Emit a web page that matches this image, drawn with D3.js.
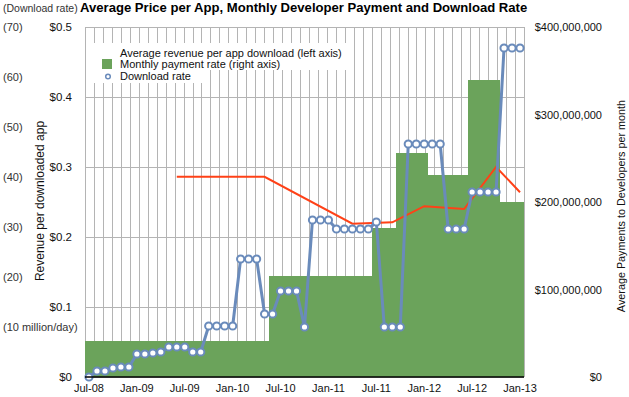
<!DOCTYPE html>
<html>
<head>
<meta charset="utf-8">
<script src="https://cdn.jsdelivr.net/npm/d3@7"></script>
<style>
  body { margin: 0; background: #fff; }
  svg { font-family: "Liberation Sans", Arial, Helvetica, sans-serif; }
</style>
</head>
<body>
<div id="chart"></div>
<script>
// months on the category axis
const months = [
  'Jul-08','Aug-08','Sep-08','Oct-08','Nov-08','Dec-08',
  'Jan-09','Feb-09','Mar-09','Apr-09','May-09','Jun-09','Jul-09','Aug-09','Sep-09','Oct-09','Nov-09','Dec-09',
  'Jan-10','Feb-10','Mar-10','Apr-10','May-10','Jun-10','Jul-10','Aug-10','Sep-10','Oct-10','Nov-10','Dec-10',
  'Jan-11','Feb-11','Mar-11','Apr-11','May-11','Jun-11','Jul-11','Aug-11','Sep-11','Oct-11','Nov-11','Dec-11',
  'Jan-12','Feb-12','Mar-12','Apr-12','May-12','Jun-12','Jul-12','Aug-12','Sep-12','Oct-12','Nov-12','Dec-12',
  'Jan-13'
];

// download rate, million/day (one per month)
const downloadRate = [
  0, 1.2, 1.2, 1.8, 2, 2,
  4.6, 4.6, 4.8, 5, 6, 6, 6, 5, 5, 10.2, 10.2, 10.2,
  10.2, 23.6, 23.6, 23.6, 12.6, 12.6, 17.2, 17.2, 17.2, 10, 31.4, 31.4,
  31.4, 29.6, 29.6, 29.6, 29.6, 29.6, 31, 10, 10, 10, 46.6, 46.6,
  46.6, 46.6, 46.6, 29.6, 29.6, 29.6, 37, 37, 37, 37, 65.8, 65.8,
  65.8
];

// monthly payment rate to developers (step periods)
const paymentStart = ['Jul-08', 'Jun-10', 'Jul-11', 'Oct-11', 'Feb-12', 'Jul-12', 'Nov-12'];
const paymentRate = [41e6, 115e6, 170e6, 256e6, 231e6, 340e6, 200e6];

// average revenue per app download
const revenueMonths = ['Jun-09', 'May-10', 'Apr-11', 'Sep-11', 'Jan-12', 'Jun-12', 'Oct-12', 'Jan-13'];
const revenuePerDownload = [0.286, 0.286, 0.219, 0.221, 0.244, 0.24, 0.30, 0.264];

const xTickLabels = ['Jul-08','Jan-09','Jul-09','Jan-10','Jul-10','Jan-11','Jul-11','Jan-12','Jul-12','Jan-13'];
const leftTicks = [0, 0.1, 0.2, 0.3, 0.4, 0.5];
const rightTicks = [0, 100e6, 200e6, 300e6, 400e6];
const rateTicks = [10, 20, 30, 40, 50, 60, 70];
const legendLabels = [
  'Average revenue per app download (left axis)',
  'Monthly payment rate (right axis)',
  'Download rate'
];

const width = 629, height = 397;
const plotL = 85, plotR = 524, plotT = 27, plotB = 377;
const green = '#6ba35b', blue = '#6a8bbb', red = '#ff4117', grid = '#b4b4b4';

const svg = d3.select('#chart').append('svg')
  .attr('width', width)
  .attr('height', height);

const x = d3.scaleBand().domain(months).range([plotL, plotR]).padding(0);
const cx = m => x(m) + x.bandwidth() / 2;
const yLeft = d3.scaleLinear().domain([0, 0.5]).range([plotB, plotT]);
const yRight = d3.scaleLinear().domain([0, 400e6]).range([plotB, plotT]);
const yRate = d3.scaleLinear().domain([0, 70]).range([plotB, plotT]);

// gridlines
const gx = d3.scaleLinear().domain([0, 49]).range([plotL, plotR]);
svg.append('g').selectAll('line')
  .data(d3.range(0, 50))
  .enter().append('line')
  .attr('x1', d => Math.round(gx(d)) + 0.5).attr('x2', d => Math.round(gx(d)) + 0.5)
  .attr('y1', plotT).attr('y2', plotB)
  .attr('stroke', grid).attr('stroke-width', 1);
svg.append('g').selectAll('line')
  .data(leftTicks)
  .enter().append('line')
  .attr('x1', plotL).attr('x2', plotR)
  .attr('y1', d => yLeft(d) + 0.5).attr('y2', d => yLeft(d) + 0.5)
  .attr('stroke', grid).attr('stroke-width', 1);

// legend background
svg.append('rect').attr('x', plotL + 1).attr('y', 43).attr('width', 262).attr('height', 27).attr('fill', '#fff');
svg.append('rect').attr('x', plotL + 1).attr('y', 69).attr('width', 121).attr('height', 14).attr('fill', '#fff');

// payment steps, drawn as one stepped area so no seams show between periods
const steps = [];
paymentRate.forEach((v, i) => {
  const x0 = x(paymentStart[i]);
  const x1 = i < paymentStart.length - 1 ? x(paymentStart[i + 1]) : plotR;
  steps.push([x0, v], [x1, v]);
});
svg.append('path')
  .datum(steps)
  .attr('fill', green)
  .attr('shape-rendering', 'crispEdges')
  .attr('d', d3.area().x(d => d[0]).y0(plotB).y1(d => yRight(d[1])));

// revenue line
svg.append('path')
  .datum(revenuePerDownload)
  .attr('fill', 'none')
  .attr('stroke', red)
  .attr('stroke-width', 2)
  .attr('d', d3.line().x((d, i) => cx(revenueMonths[i])).y(d => yLeft(d)));

// download rate line + markers
svg.append('path')
  .datum(downloadRate)
  .attr('fill', 'none')
  .attr('stroke', blue)
  .attr('stroke-width', 3)
  .attr('stroke-linejoin', 'round')
  .attr('d', d3.line().x((d, i) => cx(months[i])).y(d => yRate(d)));
svg.append('g').selectAll('circle')
  .data(downloadRate)
  .enter().append('circle')
  .attr('cx', (d, i) => cx(months[i]))
  .attr('cy', d => yRate(d))
  .attr('r', 3.6)
  .attr('fill', '#fff')
  .attr('stroke', blue)
  .attr('stroke-width', 2);

// bottom axis line
svg.append('line')
  .attr('x1', plotL).attr('x2', plotR).attr('y1', plotB).attr('y2', plotB)
  .attr('stroke', '#000').attr('stroke-width', 1.5);

// axis labels
svg.append('g').selectAll('text')
  .data(leftTicks)
  .enter().append('text')
  .attr('x', 72).attr('y', d => yLeft(d) + 4)
  .attr('text-anchor', 'end')
  .attr('font-size', 11.5).attr('fill', '#111')
  .text(d => d === 0 ? '$0' : '$' + d3.format('.1f')(d));

svg.append('g').selectAll('text')
  .data(rightTicks)
  .enter().append('text')
  .attr('x', 602).attr('y', d => yRight(d) + 4)
  .attr('text-anchor', 'end')
  .attr('font-size', 11).attr('fill', '#111')
  .text(d => '$' + d3.format(',')(d));

svg.append('g').selectAll('text')
  .data(rateTicks)
  .enter().append('text')
  .attr('x', 3).attr('y', d => yRate(d) + 4)
  .attr('font-size', 11).attr('fill', '#333')
  .text(d => d === 10 ? '(10 million/day)' : '(' + d + ')');

svg.append('g').selectAll('text')
  .data(xTickLabels)
  .enter().append('text')
  .attr('x', d => cx(d)).attr('y', 392)
  .attr('text-anchor', 'middle')
  .attr('font-size', 11).attr('fill', '#111')
  .text(d => d);

// axis titles
svg.append('text')
  .attr('transform', 'translate(44,201) rotate(-90)')
  .attr('text-anchor', 'middle').attr('font-size', 12).attr('fill', '#111')
  .text('Revenue per downloaded app');
svg.append('text')
  .attr('transform', 'translate(625,206) rotate(-90)')
  .attr('text-anchor', 'middle').attr('font-size', 10.8).attr('fill', '#111')
  .text('Average Payments to Developers per month');

// titles
svg.append('text').attr('x', 3).attr('y', 12)
  .attr('font-size', 10.5).attr('fill', '#333').text('(Download rate)');
svg.append('text').attr('x', 80).attr('y', 12)
  .attr('font-size', 13.1).attr('font-weight', 'bold').attr('fill', '#000')
  .text('Average Price per App, Monthly Developer Payment and Download Rate');

// legend
const lg = svg.append('g');
lg.selectAll('text')
  .data(legendLabels)
  .enter().append('text')
  .attr('x', 120).attr('y', (d, i) => 56.5 + i * 11.7)
  .attr('font-size', 11).attr('fill', '#111')
  .text(d => d);
lg.append('rect').attr('x', 102).attr('y', 59).attr('width', 10).attr('height', 10).attr('fill', green);
lg.append('circle').attr('cx', 108).attr('cy', 76.5).attr('r', 2.3)
  .attr('fill', '#fff').attr('stroke', blue).attr('stroke-width', 1.5);
</script>
</body>
</html>
